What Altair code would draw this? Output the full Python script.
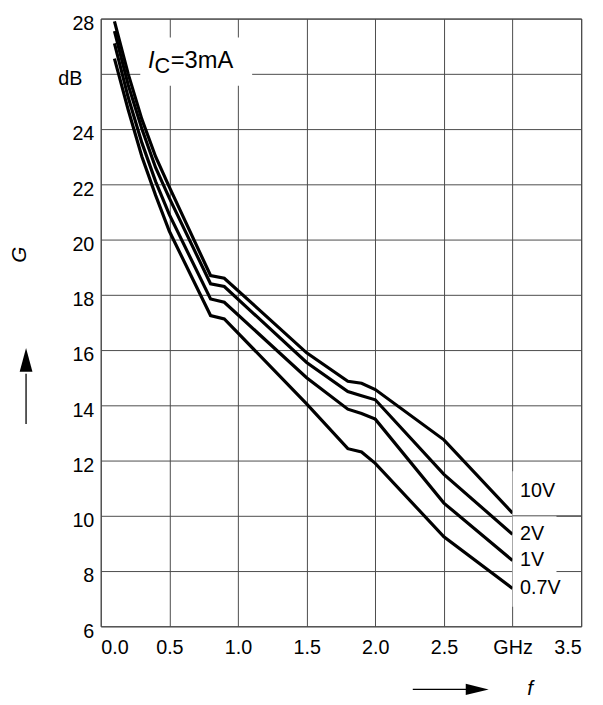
import altair as alt
import pandas as pd

# ---- data ----
freq = [0.1, 0.2, 0.3, 0.4, 0.5, 0.8, 0.9, 1.5, 1.8, 1.9, 2.0, 2.5, 3.0]
g_10v = [27.9, 26.0, 24.35, 23.0, 21.9, 18.7, 18.6, 15.9, 14.87, 14.8, 14.57, 12.75, 10.1]
g_2v = [27.55, 25.6, 24.0, 22.6, 21.5, 18.4, 18.3, 15.55, 14.5, 14.35, 14.2, 11.5, 9.33]
g_1v = [27.1, 25.15, 23.5, 22.1, 20.9, 17.85, 17.73, 15.0, 13.86, 13.7, 13.5, 10.46, 8.38]
g_07v = [26.55, 24.7, 23.0, 21.6, 20.3, 17.25, 17.13, 14.05, 12.43, 12.31, 11.9, 9.24, 7.37]
series_names = ["10V", "2V", "1V", "0.7V"]
series_values = [g_10v, g_2v, g_1v, g_07v]
label_g = [10.88, 9.33, 8.38, 7.37]

x_ticks = [0.0, 0.5, 1.0, 1.5, 2.0, 2.5, 3.0, 3.5]
y_ticks = [6, 8, 10, 12, 14, 16, 18, 20, 22, 24, 26, 28]

FONT = "Liberation Sans"
GRID = "#4a4a4a"

rows = []
for name, vals in zip(series_names, series_values):
    for f, g in zip(freq, vals):
        rows.append({"f": f, "G": g, "series": name})
df = pd.DataFrame(rows)

xscale = alt.Scale(domain=[0, 3.5], nice=False, zero=False)
yscale = alt.Scale(domain=[6, 28], nice=False, zero=False)

x_axis = alt.Axis(
    values=x_ticks, title=None, grid=True, ticks=False, domain=False,
    labelExpr="datum.value == 3 ? 'GHz' : format(datum.value, '.1f')",
    labelFont=FONT, labelFontSize=20, labelColor="black", labelPadding=12,
    labelOverlap=False, gridColor=GRID, gridWidth=1, gridOpacity=1,
)
y_axis = alt.Axis(
    values=y_ticks, title=None, grid=True, ticks=False, domain=False,
    labelExpr="datum.value == 26 ? '' : datum.label",
    labelFont=FONT, labelFontSize=20, labelColor="black", labelPadding=7,
    labelOffset=5, labelOverlap=False, gridColor=GRID, gridWidth=1, gridOpacity=1,
)


def X(field="f"):
    return alt.X(f"{field}:Q", scale=xscale, axis=x_axis)


def Y(field="G"):
    return alt.Y(f"{field}:Q", scale=yscale, axis=y_axis)


lines = alt.Chart(df).mark_line(color="black", strokeWidth=3.2).encode(
    x=X(), y=Y(), detail="series:N",
)

# white boxes behind annotations
boxes = pd.DataFrame({
    "f": [3.0, 0.288], "f2": [3.32, 1.103],
    "G": [6.71, 25.57], "G2": [11.61, 27.32],
})
box_layer = alt.Chart(boxes).mark_rect(color="white").encode(
    x=X(), x2="f2:Q", y=Y(), y2="G2:Q",
)
grid_fix = alt.Chart(pd.DataFrame({"f": [3.0], "f2": [3.5], "G": [10]})).mark_rule(
    color=GRID, strokeWidth=1
).encode(x=X(), x2="f2:Q", y=Y())

labels = alt.Chart(pd.DataFrame({"f": [3.055] * 4, "G": label_g, "t": series_names})).mark_text(
    font=FONT, fontSize=20, align="left", baseline="middle", color="black"
).encode(x=X(), y=Y(), text="t:N")

db_label = alt.Chart(pd.DataFrame({"G": [26]})).mark_text(
    font=FONT, fontSize=20, align="right", baseline="middle", color="black", dy=5
).encode(x=alt.value(-18.7), y=Y(), text=alt.value("dB"))

one = pd.DataFrame({"a": [0]})
ic_i = alt.Chart(one).mark_text(
    font=FONT, fontSize=24, fontStyle="italic", align="left", baseline="alphabetic", color="black"
).encode(x=alt.value(48), y=alt.value(50.3), text=alt.value("I"))
ic_c = alt.Chart(one).mark_text(
    font=FONT, fontSize=22, align="left", baseline="alphabetic", color="black"
).encode(x=alt.value(54.5), y=alt.value(54.8), text=alt.value("C"))
ic_rest = alt.Chart(one).mark_text(
    font=FONT, fontSize=24, align="left", baseline="alphabetic", color="black"
).encode(x=alt.value(71), y=alt.value(50.3), text=alt.value("=3mA"))

# axis titles with arrows
g_title = alt.Chart(one).mark_text(
    font=FONT, fontSize=21, fontStyle="italic", angle=270, align="center", baseline="middle", color="black"
).encode(x=alt.value(-82), y=alt.value(239.3), text=alt.value("G"))
up_line = alt.Chart(one).mark_rule(color="black", strokeWidth=1.3).encode(
    x=alt.value(-75.7), y=alt.value(360), y2=alt.value(411)
)
up_head = alt.Chart(one).mark_point(
    shape="M0,-1L0.54,1L-0.54,1Z", size=576, filled=True, color="black", opacity=1, strokeWidth=0
).encode(x=alt.value(-75.7), y=alt.value(346))

f_title = alt.Chart(one).mark_text(
    font=FONT, fontSize=21, fontStyle="italic", align="center", baseline="middle", color="black"
).encode(x=alt.value(435.3), y=alt.value(680), text=alt.value("f"))
right_line = alt.Chart(one).mark_rule(color="black", strokeWidth=1.3).encode(
    x=alt.value(316.3), x2=alt.value(372), y=alt.value(680)
)
right_head = alt.Chart(one).mark_point(
    shape="M1,0L-1,-0.49L-1,0.49Z", size=540, filled=True, color="black", opacity=1, strokeWidth=0
).encode(x=alt.value(381.6), y=alt.value(680))

chart = alt.layer(
    lines, box_layer, grid_fix, labels, db_label, ic_i, ic_c, ic_rest,
    g_title, up_line, up_head, f_title, right_line, right_head,
).properties(
    width=487, height=616,
    autosize=alt.AutoSizeParams(type="none"),
    padding={"left": 94, "top": 6, "right": 14, "bottom": 73},
    background="white",
).configure_view(stroke="#333333", strokeWidth=1)

chart.save("out.html", embed_options={"renderer": "svg", "actions": False})
